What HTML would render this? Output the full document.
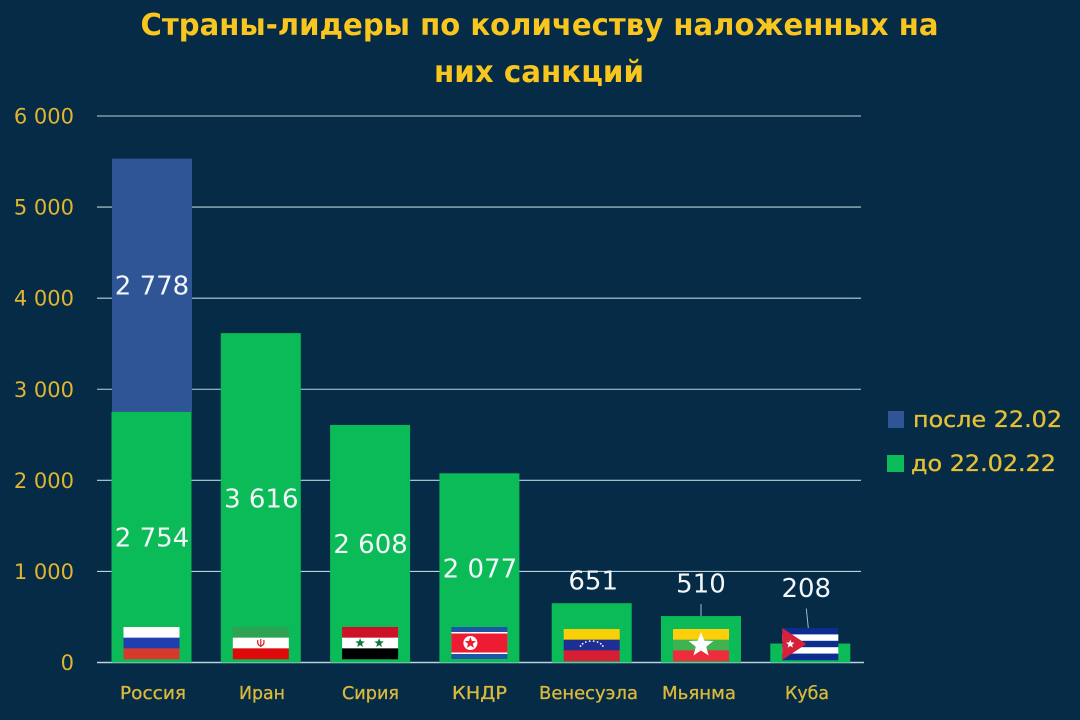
<!DOCTYPE html>
<html lang="ru">
<head>
<meta charset="utf-8">
<title>Страны-лидеры по количеству наложенных на них санкций</title>
<style>
html,body{margin:0;padding:0;background:#052b46;width:1080px;height:720px;overflow:hidden}
svg{display:block}
text{font-family:"DejaVu Sans","Liberation Sans",sans-serif}
</style>
</head>
<body>
<svg id="chart" xmlns="http://www.w3.org/2000/svg" width="1080" height="720" viewBox="0 0 1080 720">
  <rect width="1080" height="720" fill="#052b46"/>
  <text x="539.5" y="35" text-anchor="middle" font-size="30" font-weight="bold" fill="#f8c61e" textLength="798" lengthAdjust="spacingAndGlyphs">Страны-лидеры по количеству наложенных на</text>
  <text x="539" y="82" text-anchor="middle" font-size="30" font-weight="bold" fill="#f8c61e" textLength="210" lengthAdjust="spacingAndGlyphs">них санкций</text>
  <g id="grid"></g>
  <g id="bars"></g>
  <g id="flags"></g>
  <g id="labels"></g>
  <g id="cats"></g>
  <g>
    <rect x="888" y="411" width="16" height="17" fill="#2f5597"/>
    <text x="913" y="427" font-size="22" fill="#e5bf35" stroke="#e5bf35" stroke-width="0.35" textLength="149" lengthAdjust="spacingAndGlyphs">после 22.02</text>
    <rect x="887" y="455" width="17" height="17" fill="#0bbb57"/>
    <text x="911" y="471" font-size="22" fill="#e5bf35" stroke="#e5bf35" stroke-width="0.35" textLength="145" lengthAdjust="spacingAndGlyphs">до 22.02.22</text>
  </g>
</svg>
<script>
const categories = ["Россия", "Иран", "Сирия", "КНДР", "Венесуэла", "Мьянма", "Куба"];
const valuesBefore = [2754, 3616, 2608, 2077, 651, 510, 208];
const valuesAfter = [2778, 0, 0, 0, 0, 0, 0];
const tickValues = [0, 1000, 2000, 3000, 4000, 5000, 6000];
const tickLabels = ["0", "1 000", "2 000", "3 000", "4 000", "5 000", "6 000"];

const NS = "http://www.w3.org/2000/svg";
const BASE_Y = 662.5;
const PX_PER_UNIT = 546.5 / 6000;
const FIRST_CENTER = 151.5;
const STEP = 109.3;
const BAR_WIDTH = 80;
const FLAG_W = 56;
const FLAG_H = 32;
const COLOR_BEFORE = "#0bbb57";
const COLOR_AFTER = "#2f5597";
const LABEL_COLOR = "#f2f6f8";
const GOLD = "#dcb93a";

function yScale(v) { return BASE_Y - v * PX_PER_UNIT; }
function xCenter(i) { return FIRST_CENTER + i * STEP + (i >= 4 ? 3 : 0); }
function mk(tag, attrs, parent) {
  const el = document.createElementNS(NS, tag);
  for (const k in attrs) el.setAttribute(k, attrs[k]);
  parent.appendChild(el);
  return el;
}

const gGrid = document.getElementById("grid");
const gBars = document.getElementById("bars");
const gFlags = document.getElementById("flags");
const gLabels = document.getElementById("labels");
const gCats = document.getElementById("cats");

/* gridlines and y ticks */
tickValues.forEach(function (t, i) {
  const y = yScale(t);
  const line = mk("line", { x1: 97, x2: t === 0 ? 864 : 861, y1: y, y2: y, stroke: "#b9d3dc", "stroke-width": t === 0 ? 1.6 : 1.1 }, gGrid);
  
  
  const label = mk("text", { x: 74, y: y + 7.5, "text-anchor": "end", "font-size": 21, fill: "#e0b52f" }, gGrid);
  
  
  label.textContent = tickLabels[i];
});

/* bars */
categories.forEach(function (c, i) {
  const cx = xCenter(i);
  const top1 = yScale(valuesBefore[i]);
  const r = mk("rect", { x: cx - BAR_WIDTH / 2, y: top1, width: BAR_WIDTH, height: BASE_Y - top1, fill: COLOR_BEFORE }, gBars);
  
  
  if (valuesAfter[i] > 0) {
    const top2 = yScale(valuesBefore[i] + valuesAfter[i]);
    const r2 = mk("rect", { x: cx - BAR_WIDTH / 2 + 0.5, y: top2, width: BAR_WIDTH, height: top1 - top2, fill: COLOR_AFTER }, gBars);
    
    
  }
});

/* flags */
function stripes(g, x, y, colors) {
  const sh = FLAG_H / colors.length;
  colors.forEach(function (col, k) {
    mk("rect", { x: x, y: y + k * sh, width: FLAG_W, height: sh + 0.3, fill: col }, g);
  });
}
function star(g, cx, cy, r, fill) {
  let pts = [];
  for (let k = 0; k < 10; k++) {
    const rad = k % 2 ? r * 0.42 : r;
    const a = -Math.PI / 2 + k * Math.PI / 5;
    pts.push((cx + rad * Math.cos(a)).toFixed(1) + "," + (cy + rad * Math.sin(a)).toFixed(1));
  }
  mk("polygon", { points: pts.join(" "), fill: fill }, g);
}
const flagDrawers = [
  function (g, x, y) { stripes(g, x, y, ["#ffffff", "#1f3fae", "#d63a2c"]); },
  function (g, x, y) {
    stripes(g, x, y, ["#2fa354", "#ffffff", "#dc0a0a"]);
    mk("line", { x1: x + 28, x2: x + 28, y1: y + 12, y2: y + 20, stroke: "#d8232a", "stroke-width": 1.2 }, g);
    mk("path", { d: "M" + (x + 25) + " " + (y + 13) + "q-1 5 3 6q4 -1 3 -6", fill: "none", stroke: "#d8232a", "stroke-width": 1.2 }, g);
  },
  function (g, x, y) {
    stripes(g, x, y, ["#ce1126", "#ffffff", "#000000"]);
    star(g, x + 18, y + 16, 5, "#0c7a3e");
    star(g, x + 37, y + 16, 5, "#0c7a3e");
  },
  function (g, x, y) {
    mk("rect", { x: x, y: y, width: FLAG_W, height: FLAG_H, fill: "#1f55a5" }, g);
    mk("rect", { x: x, y: y + 5, width: FLAG_W, height: FLAG_H - 10, fill: "#ffffff" }, g);
    mk("rect", { x: x, y: y + 6.5, width: FLAG_W, height: FLAG_H - 13, fill: "#ed1c33" }, g);
    mk("circle", { cx: x + 19, cy: y + 16, r: 7, fill: "#ffffff" }, g);
    star(g, x + 19, y + 16, 6, "#ed1c33");
  },
  function (g, x, y) {
    stripes(g, x, y, ["#f9cf06", "#1d2f92", "#d81e34"]);
    for (let k = 0; k < 8; k++) {
      const a = Math.PI * (0.12 + 0.76 * k / 7);
      mk("circle", { cx: x + 28 - 12 * Math.cos(a), cy: y + 20 - 8 * Math.sin(a), r: 0.9, fill: "#ffffff" }, g);
    }
  },
  function (g, x, y) {
    stripes(g, x, y, ["#fccf0a", "#3fb34f", "#ee2c3c"]);
    star(g, x + 28, y + 16, 13, "#ffffff");
  },
  function (g, x, y) {
    stripes(g, x, y, ["#0c2c8f", "#ffffff", "#0c2c8f", "#ffffff", "#0c2c8f"]);
    mk("polygon", { points: x + "," + y + " " + (x + 24) + "," + (y + 16) + " " + x + "," + (y + FLAG_H), fill: "#d5213a" }, g);
    star(g, x + 8, y + 16, 4.5, "#ffffff");
  }
];
const flagTops = [627, 627, 627, 627, 629, 629, 628];
flagDrawers.forEach(function (draw, i) {
  const g = mk("g", {}, gFlags);
  
  
  draw(g, xCenter(i) - FLAG_W / 2, flagTops[i]);
});

/* value labels */
function fmt(v) { return v >= 1000 ? String(v).replace(/(\d)(\d{3})$/, "$1 $2") : String(v); }
function valueLabel(cx, cy, v) {
  const t = mk("text", { x: cx, y: cy + 9.5, "text-anchor": "middle", "font-size": 26, fill: LABEL_COLOR }, gLabels);
  
  
  t.textContent = fmt(v);
}
const outsideGaps = [0, 0, 0, 0, 23, 33, 56];
const outsideShift = [0, 0, 0, 0, 1.5, 0, -4];
categories.forEach(function (c, i) {
  const cx = xCenter(i);
  const b = valuesBefore[i];
  const a = valuesAfter[i];
  if (outsideGaps[i] === 0) {
    valueLabel(cx + 0.5, (yScale(b) + BASE_Y) / 2, b);
  } else {
    const top = yScale(b);
    const lx = cx + outsideShift[i];
    valueLabel(lx, top - outsideGaps[i], b);
    if (i >= 5) {
      const leader = mk("line", { x1: lx, y1: top - outsideGaps[i] + 21, x2: lx + (i === 6 ? 2 : 0), y2: i === 6 ? 628 : top, stroke: "#9fbcc8", "stroke-width": 1 }, gLabels);
      
      
    }
  }
  if (a > 0) {
    valueLabel(cx + 0.5, (yScale(b + a) + yScale(b)) / 2, a);
  }
});

/* category labels */
const catWidths = [66, 46, 57, 55, 99, 74, 44];
const catCenters = [153, 262, 370.5, 479.5, 588.5, 699, 807];
categories.forEach(function (c, i) {
  const t = mk("text", { x: catCenters[i], y: 699, "text-anchor": "middle", "font-size": 18, fill: GOLD, stroke: GOLD, "stroke-width": 0.3, textLength: catWidths[i], lengthAdjust: "spacingAndGlyphs" }, gCats);
  
  
  t.textContent = c;
});
</script>
</body>
</html>
